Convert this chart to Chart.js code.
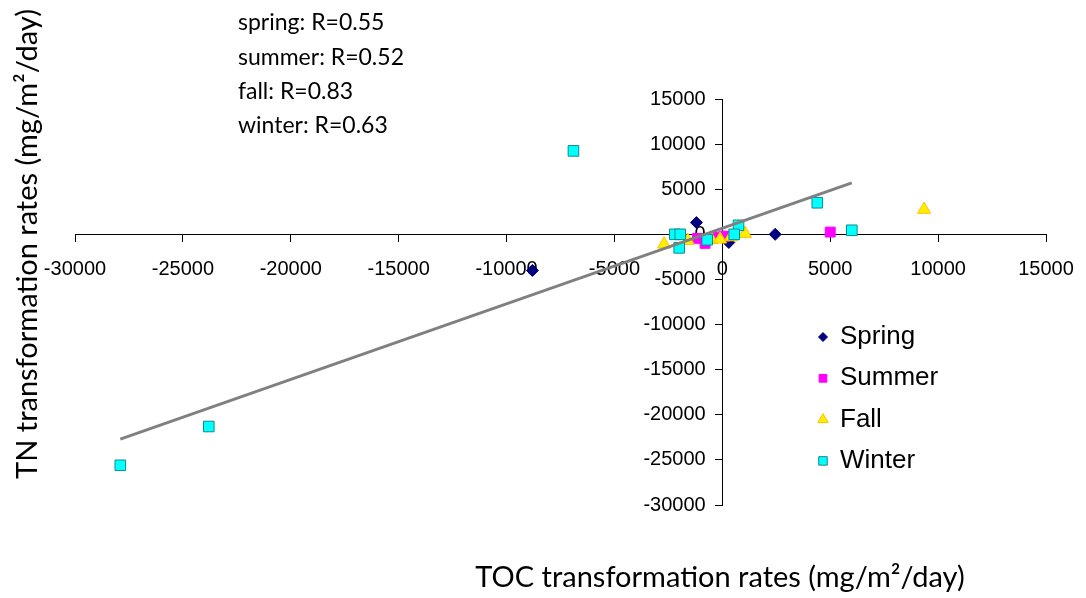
<!DOCTYPE html>
<html>
<head>
<meta charset="utf-8">
<script src="https://cdn.jsdelivr.net/npm/chart.js@4"></script>
<style>
  html, body { margin: 0; padding: 0; background: #fff; }
  #wrap { position: relative; width: 1086px; height: 598px; }
</style>
</head>
<body>
<div id="wrap"><canvas id="chart"></canvas></div>
<script>
// values (TOC rate, TN rate)
const springX = [-8800, -1200, 2450, 300];
const springY = [-4000, 1300, 0, -900];
const summerX = [5000, -800, -1150, -200, 100];
const summerY = [250, -1000, -450, -300, -200];
const fallX = [-2700, -1600, -500, -100, 400, 1050, 9350];
const fallY = [-1100, -700, -600, -550, -300, 80, 2750];
const winterX = [-27900, -23800, -6900, 4400, 6000, 750, 550, -2200, -1950, -2000, -700];
const winterY = [-25600, -21300, 9250, 3500, 450, 1000, 0, 0, 0, -1500, -600];
// overall linear fit drawn in grey
const trendX = [-27900, 6000];
const trendY = [-22700, 5700];

const xTicks = [-30000, -25000, -20000, -15000, -10000, -5000, 0, 5000, 10000, 15000];
const yTicks = [-30000, -25000, -20000, -15000, -10000, -5000, 0, 5000, 10000, 15000];

const seasonNames = ['Spring', 'Summer', 'Fall', 'Winter'];
const rLabels = ['spring: R=0.55', 'summer: R=0.52', 'fall: R=0.83', 'winter: R=0.63'];
const xTitle = 'TOC transformation rates (mg/m\u00B2/day)';
const yTitle = 'TN transformation rates (mg/m\u00B2/day)';

function pts(xs, ys) {
  return xs.map((x, i) => ({ x: x, y: ys[i] }));
}

const seasonStyle = [
  { pointStyle: 'rectRot', radius: 6, bg: '#000080', border: '#000080' },
  { pointStyle: 'rect', radius: 7, bg: '#FF00FF', border: '#FF00FF' },
  { pointStyle: 'triangle', radius: 7.5, bg: '#FFEE00', border: '#FFC000' },
  { pointStyle: 'rect', radius: 7.5, bg: '#00FFFF', border: '#108A8A' },
];

const seasonData = [
  pts(springX, springY),
  pts(summerX, summerY),
  pts(fallX, fallY),
  pts(winterX, winterY),
];

const datasets = seasonNames.map((name, i) => ({
  type: 'scatter',
  label: name,
  data: seasonData[i],
  pointStyle: seasonStyle[i].pointStyle,
  pointRadius: seasonStyle[i].radius,
  pointHoverRadius: seasonStyle[i].radius,
  backgroundColor: seasonStyle[i].bg,
  borderColor: seasonStyle[i].border,
  pointBorderWidth: 1,
  order: 4 - i,
}));

datasets.push({
  type: 'line',
  label: 'fit',
  data: pts(trendX, trendY),
  borderColor: '#808080',
  borderWidth: 3,
  pointRadius: 0,
  fill: false,
  order: 0,
});

// text on the plot: R values, axis titles and the legend box
const textPlugin = {
  id: 'textPlugin',
  afterDraw(chart) {
    const ctx = chart.ctx;
    ctx.save();
    ctx.fillStyle = '#000';
    ctx.textBaseline = 'middle';
    ctx.textAlign = 'left';
    ctx.font = '23px Lato, "Open Sans", sans-serif';
    rLabels.forEach((t, i) => ctx.fillText(t, 238, 23 + i * 34.3));

    ctx.font = '29px Lato, "Open Sans", sans-serif';
    ctx.textAlign = 'center';
    ctx.fillText(xTitle, 720, 578);
    ctx.save();
    ctx.translate(28, 244);
    ctx.rotate(-Math.PI / 2);
    ctx.fillText(yTitle, 0, 0);
    ctx.restore();

    // legend
    ctx.font = '26px "Liberation Sans", Arial, sans-serif';
    ctx.textAlign = 'left';
    seasonNames.forEach((name, i) => {
      const y = 337 + i * 41.3;
      const s = seasonStyle[i];
      ctx.fillStyle = s.bg;
      ctx.strokeStyle = s.border;
      ctx.lineWidth = 1;
      Chart.helpers.drawPoint(ctx, { pointStyle: s.pointStyle, radius: s.radius - 1.5, borderWidth: 1 }, 823, y);
      ctx.fillStyle = '#000';
      ctx.fillText(name, 840, y);
    });
    ctx.restore();
  }
};

const tickFont = { family: '"Liberation Sans", Arial, sans-serif', size: 20 };

new Chart(document.getElementById('chart'), {
  data: { datasets: datasets },
  options: {
    responsive: true,
    maintainAspectRatio: false,
    animation: false,
    layout: { padding: { left: 75, right: 40, top: 99, bottom: 93 } },
    plugins: {
      legend: { display: false },
      tooltip: { enabled: false },
    },
    scales: {
      x: {
        type: 'linear',
        position: { y: 0 },
        min: -30000,
        max: 15000,
        afterBuildTicks: (axis) => { axis.ticks = xTicks.map((v) => ({ value: v })); },
        grid: { drawOnChartArea: false, drawTicks: true, tickLength: 7, color: '#000' },
        border: { display: true, color: '#000', width: 1 },
        ticks: {
          color: '#000',
          // tall line height pushes labels down without widening the side padding
          font: { family: tickFont.family, size: 20, lineHeight: 2 },
          padding: 8,
          maxRotation: 0,
          autoSkip: false,
          callback: (v) => String(v),
        },
      },
      y: {
        type: 'linear',
        position: { x: 0 },
        min: -30000,
        max: 15000,
        afterBuildTicks: (axis) => { axis.ticks = yTicks.map((v) => ({ value: v })); },
        grid: { drawOnChartArea: false, drawTicks: true, tickLength: 7, color: '#000' },
        border: { display: true, color: '#000', width: 1 },
        ticks: {
          color: '#000',
          font: tickFont,
          autoSkip: false,
          // centred axis labels sit flush on the axis, pad them off with spaces
          callback: (v) => String(v) + '   ',
        },
      },
    },
  },
  plugins: [textPlugin],
});
</script>
</body>
</html>
